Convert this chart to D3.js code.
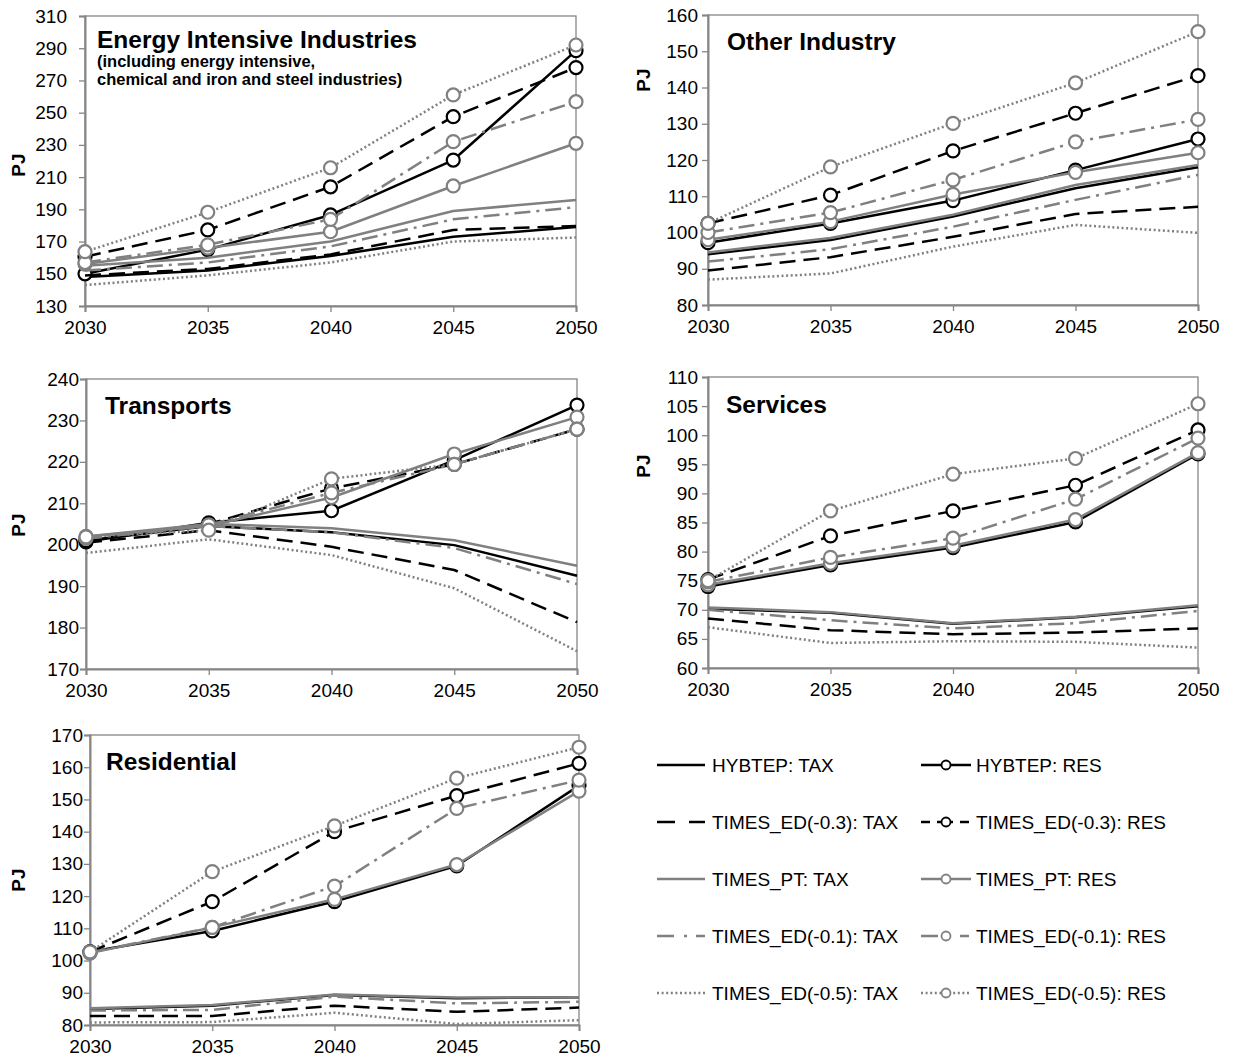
<!DOCTYPE html>
<html>
<head>
<meta charset="utf-8">
<script src="https://cdn.jsdelivr.net/npm/d3@7"></script>
<style>
  body { margin: 0; background: #fff; }
  svg text { font-family: "Liberation Sans", Arial, sans-serif; fill: #000; }
</style>
</head>
<body>
<svg id="chart" width="1233" height="1063"></svg>
<script>
// ---- data ----
const years = [2030, 2035, 2040, 2045, 2050];

const seriesNames = [
  "HYBTEP: TAX", "HYBTEP: RES",
  "TIMES_ED(-0.3): TAX", "TIMES_ED(-0.3): RES",
  "TIMES_PT: TAX", "TIMES_PT: RES",
  "TIMES_ED(-0.1): TAX", "TIMES_ED(-0.1): RES",
  "TIMES_ED(-0.5): TAX", "TIMES_ED(-0.5): RES"
];

// Final energy consumption (PJ), one row per series in seriesNames order
const energyIntensiveValues = [
  [148, 152, 161, 173, 179],
  [150, 165, 186.5, 220.6, 288.5],
  [149, 153, 162, 177.2, 179.7],
  [160.6, 177.2, 204, 247.5, 278],
  [155, 160, 170, 189, 195.8],
  [156, 166, 176.1, 204.5, 231],
  [152, 157, 167, 183.8, 191.3],
  [157, 168, 183.8, 232, 256.8],
  [143, 149, 157, 170, 172.5],
  [163.7, 188.2, 215.8, 261, 292]
];

const otherIndustryValues = [
  [94, 97.9, 104.4, 112.2, 118],
  [97.2, 102.5, 108.8, 117.2, 125.8],
  [89.5, 93.2, 98.8, 105.1, 107.1],
  [102.5, 110.3, 122.5, 132.9, 143.3],
  [94.5, 98.5, 104.9, 113.1, 118.6],
  [98, 103, 110.5, 116.6, 122],
  [92, 95.4, 101.6, 109, 115.9],
  [100, 105.5, 114.5, 125, 131.2],
  [87, 88.7, 96.1, 102.1, 99.9],
  [102.5, 118.1, 130.1, 141.3, 155.4]
];

const transportsValues = [
  [201, 204.5, 203, 199.9, 192.5],
  [200.7, 205.3, 208.2, 220.4, 233.7],
  [200.5, 203.5, 199.5, 193.9, 181.3],
  [201, 205, 213.6, 219.4, 227.9],
  [202, 205, 204, 201.1, 194.9],
  [202, 204.5, 211.4, 221.9, 230.8],
  [201.5, 204.5, 203, 199.2, 190.5],
  [201.5, 204.8, 212.5, 219.4, 227.9],
  [198, 201.3, 197.5, 189.5, 174.3],
  [201.9, 203.5, 215.9, 219.4, 227.9]
];

const servicesValues = [
  [70.2, 69.5, 67.6, 68.7, 70.6],
  [74, 77.7, 80.7, 85.1, 96.8],
  [68.5, 66.5, 65.8, 66.1, 66.8],
  [75.2, 82.7, 87, 91.4, 100.9],
  [70.4, 69.6, 67.7, 68.8, 70.8],
  [74.3, 78, 81, 85.5, 97],
  [70, 68.2, 66.8, 67.7, 69.8],
  [74.8, 79, 82.3, 89, 99.5],
  [67, 64.3, 64.6, 64.5, 63.5],
  [75, 87, 93.3, 96, 105.4]
];

const residentialValues = [
  [85, 86, 89.3, 88.3, 88.6],
  [102.7, 109.2, 118.3, 129.4, 154.3],
  [82.8, 82.8, 86, 84.1, 85.4],
  [102.7, 118.3, 140, 151.2, 161.2],
  [85.2, 86.2, 89.5, 88.5, 88.6],
  [102.3, 110.3, 119, 129.8, 152.6],
  [84.5, 84.7, 88.8, 86.7, 87.2],
  [102.5, 110.3, 123.1, 147.2, 156],
  [80.8, 80.9, 83.8, 80.3, 81.5],
  [102.7, 127.6, 141.8, 156.6, 166.2]
];

// y-axis tick labels per panel
const energyIntensiveTicks = [130, 150, 170, 190, 210, 230, 250, 270, 290, 310];
const otherIndustryTicks = [80, 90, 100, 110, 120, 130, 140, 150, 160];
const transportsTicks = [170, 180, 190, 200, 210, 220, 230, 240];
const servicesTicks = [60, 65, 70, 75, 80, 85, 90, 95, 100, 105, 110];
const residentialTicks = [80, 90, 100, 110, 120, 130, 140, 150, 160, 170];

// ---- styling ----
const BLACK = "#000000";
const GRAY = "#808080";
const AXIS = "#868686";
const styles = [
  { color: BLACK, dash: null, legendDash: null, marker: false },
  { color: BLACK, dash: null, legendDash: null, marker: true },
  { color: BLACK, dash: "16,8", legendDash: "18,14", marker: false },
  { color: BLACK, dash: "16,8", legendDash: "9,7,16,7,9", marker: true },
  { color: GRAY, dash: null, legendDash: null, marker: false },
  { color: GRAY, dash: null, legendDash: null, marker: true },
  { color: GRAY, dash: "16,6,3,6", legendDash: "17,10,3,9,9", marker: false },
  { color: GRAY, dash: "16,6,3,6", legendDash: "17,10,3,9,9", marker: true },
  { color: GRAY, dash: "2,2.6", legendDash: "2,2.6", marker: false },
  { color: GRAY, dash: "2,2.6", legendDash: "2,2.6", marker: true }
];

// ---- panel layout ----
const panels = [
  { values: energyIntensiveValues, ticks: energyIntensiveTicks,
    x0: 85, x1: 576, y0: 16, y1: 306, labelGap: 18, pjX: 18, pjY: 165,
    title: "Energy Intensive Industries", tx: 97, ty: 48,
    sub: ["(including energy intensive,", "chemical and iron and steel industries)"] },
  { values: otherIndustryValues, ticks: otherIndustryTicks,
    x0: 708, x1: 1198, y0: 15, y1: 305, labelGap: 10, pjX: 643, pjY: 80,
    title: "Other Industry", tx: 727, ty: 50, sub: [] },
  { values: transportsValues, ticks: transportsTicks,
    x0: 86, x1: 577, y0: 379, y1: 669, labelGap: 7, pjX: 18, pjY: 525,
    title: "Transports", tx: 105, ty: 414, sub: [] },
  { values: servicesValues, ticks: servicesTicks,
    x0: 708, x1: 1198, y0: 377, y1: 668, labelGap: 10, pjX: 643, pjY: 466,
    title: "Services", tx: 726, ty: 413, sub: [] },
  { values: residentialValues, ticks: residentialTicks,
    x0: 90, x1: 579, y0: 735, y1: 1025, labelGap: 7, pjX: 18, pjY: 880,
    title: "Residential", tx: 106, ty: 770, sub: [] }
];

const svg = d3.select("#chart");

panels.forEach(p => {
  const x = d3.scalePoint().domain(years).range([p.x0, p.x1]);
  const y = d3.scaleLinear()
    .domain([d3.min(p.ticks), d3.max(p.ticks)])
    .range([p.y1, p.y0]);

  const g = svg.append("g");

  // plot frame
  g.append("rect")
    .attr("x", p.x0).attr("y", p.y0)
    .attr("width", p.x1 - p.x0).attr("height", p.y1 - p.y0)
    .attr("fill", "none").attr("stroke", AXIS).attr("stroke-width", 1.3);

  // axes
  const yAxis = g.append("g")
    .attr("transform", `translate(${p.x0},0)`)
    .call(d3.axisLeft(y).tickValues(p.ticks).tickSize(6).tickPadding(p.labelGap - 6)
      .tickFormat(d3.format("d")));
  const xAxis = g.append("g")
    .attr("transform", `translate(0,${p.y1})`)
    .call(d3.axisBottom(x).tickSize(6).tickPadding(9).tickFormat(d3.format("d")));

  [yAxis, xAxis].forEach(a => {
    a.selectAll("path.domain").attr("stroke", AXIS).attr("stroke-width", 2);
    a.selectAll(".tick line").attr("stroke", AXIS).attr("stroke-width", 1.3);
    a.selectAll(".tick text")
      .attr("font-size", 19).attr("fill", "#000")
      .attr("font-family", '"Liberation Sans", Arial, sans-serif');
  });

  // y-axis unit
  g.append("text")
    .attr("transform", `translate(${p.pjX},${p.pjY}) rotate(-90)`)
    .attr("text-anchor", "middle")
    .attr("dy", "0.35em")
    .attr("font-size", 19).attr("font-weight", "bold")
    .text("PJ");

  // series lines and markers
  const line = d3.line().x((d, i) => x(years[i])).y(d => y(d));
  p.values.forEach((vals, si) => {
    const s = styles[si];
    g.append("path")
      .datum(vals)
      .attr("d", line)
      .attr("fill", "none")
      .attr("stroke", s.color)
      .attr("stroke-width", 2.5)
      .attr("stroke-dasharray", s.dash)
      .attr("stroke-linejoin", "round");
    if (s.marker) {
      g.selectAll(null)
        .data(vals)
        .enter().append("circle")
        .attr("cx", (d, i) => x(years[i]))
        .attr("cy", d => y(d))
        .attr("r", 6.5)
        .attr("fill", "#fff")
        .attr("stroke", s.color)
        .attr("stroke-width", 2.2);
    }
  });

  // panel title
  g.append("text")
    .attr("x", p.tx).attr("y", p.ty)
    .attr("font-size", 24.5).attr("font-weight", "bold")
    .text(p.title);
  p.sub.forEach((t, i) => {
    g.append("text")
      .attr("x", p.tx).attr("y", p.ty + 19 + i * 18)
      .attr("font-size", 16.5).attr("font-weight", "bold")
      .text(t);
  });
});

// ---- legend ----
const legendRows = [765, 822, 879, 936, 993];
const legendCols = [
  { lx0: 657, lx1: 705, tx: 712 },
  { lx0: 921, lx1: 971, tx: 976 }
];
const legend = svg.append("g");
seriesNames.forEach((name, si) => {
  const s = styles[si];
  const col = legendCols[si % 2];
  const ry = legendRows[Math.floor(si / 2)];
  legend.append("line")
    .attr("x1", col.lx0).attr("x2", col.lx1)
    .attr("y1", ry).attr("y2", ry)
    .attr("stroke", s.color).attr("stroke-width", 2.5)
    .attr("stroke-dasharray", s.legendDash);
  if (s.marker) {
    legend.append("circle")
      .attr("cx", (col.lx0 + col.lx1) / 2).attr("cy", ry)
      .attr("r", 4.5)
      .attr("fill", "#fff").attr("stroke", s.color).attr("stroke-width", 1.8);
  }
  legend.append("text")
    .attr("x", col.tx).attr("y", ry)
    .attr("dy", "0.35em")
    .attr("font-size", 19)
    .text(name);
});
</script>
</body>
</html>
